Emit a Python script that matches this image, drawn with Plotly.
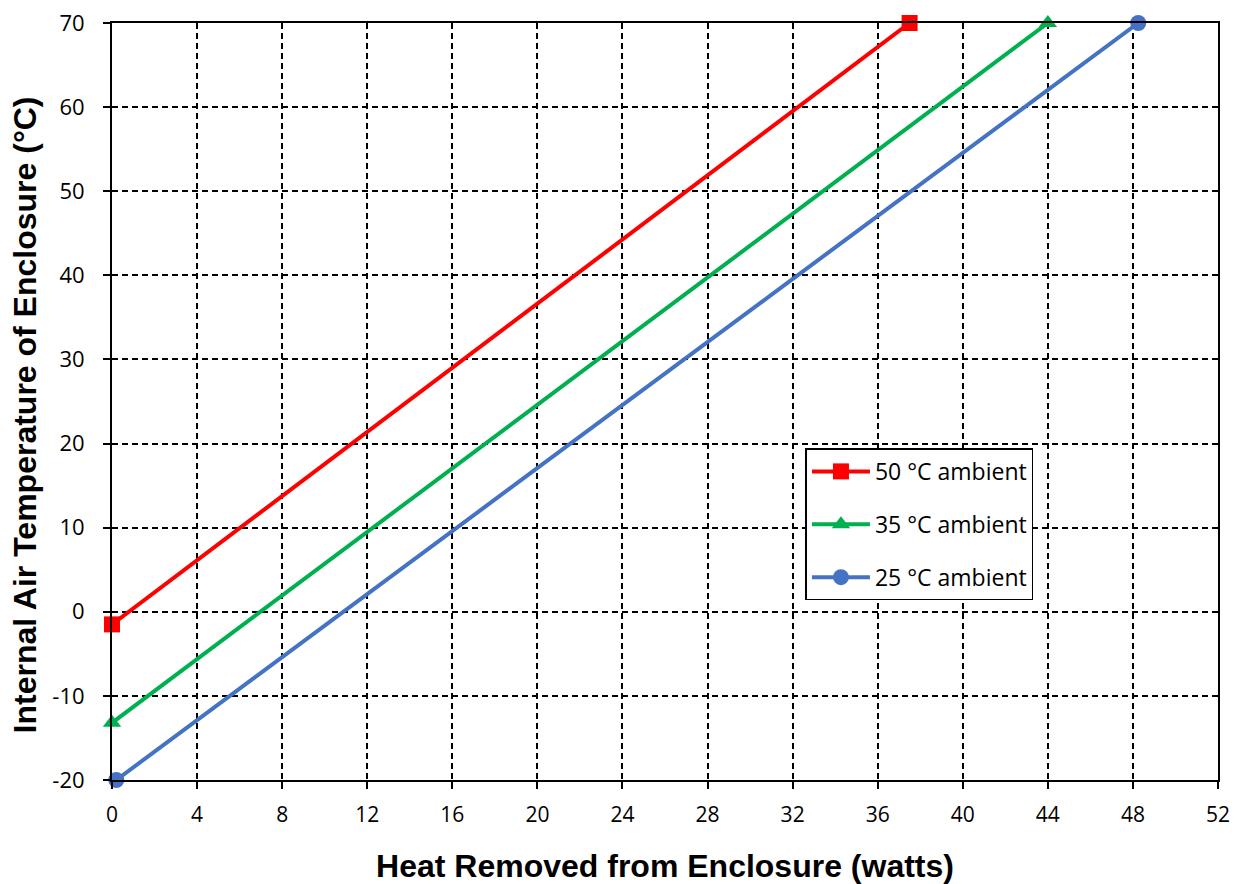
import plotly.graph_objects as go

# Data
series_names = ["50 °C ambient", "35 °C ambient", "25 °C ambient"]
red_x = [0.0, 37.5]
red_y = [-1.5, 70.0]
green_x = [0.0, 44.0]
green_y = [-13.2, 70.0]
blue_x = [0.2, 48.25]
blue_y = [-20.0, 70.0]

x_ticks = list(range(0, 53, 4))
y_ticks = list(range(-20, 71, 10))

x_title = "Heat Removed from Enclosure (watts)"
y_title = "Internal Air Temperature of Enclosure (°C)"

colors = ["#FF0000", "#00B050", "#4472C4"]
symbols = ["square", "triangle-up", "circle"]

fig = go.Figure()
for i, (name, xs, ys) in enumerate(zip(series_names, [red_x, green_x, blue_x], [red_y, green_y, blue_y])):
    fig.add_trace(go.Scatter(
        x=xs, y=ys, name=name, mode="lines+markers",
        line=dict(color=colors[i], width=4),
        marker=dict(symbol=symbols[i], size=16, color=colors[i]),
        legendgroup=f"g{i}", cliponaxis=False,
    ))

axis_common = dict(
    showline=True, linecolor="black", linewidth=2, mirror=True,
    showgrid=True, gridcolor="black", griddash="6px,4px", gridwidth=1.5,
    ticks="outside", ticklen=7, tickcolor="black", tickwidth=1.5,
    zeroline=False, automargin=False, ticklabeloverflow="allow",
)

fig.update_xaxes(
    range=[0, 52], tickvals=x_ticks, ticktext=[str(v) for v in x_ticks],
    ticklabelstandoff=8,
    tickfont=dict(family="Open Sans, Noto Sans, sans-serif", size=21, color="black"),
    title=dict(text=f"<b>{x_title}</b>",
               font=dict(family="Liberation Sans, Arial, sans-serif", size=32, color="black"),
               standoff=27),
    **axis_common,
)
fig.update_yaxes(
    range=[-20, 70], tickvals=y_ticks, ticktext=[str(v) for v in y_ticks],
    ticklabelstandoff=14,
    tickfont=dict(family="Open Sans, Noto Sans, sans-serif", size=22, color="black"),
    **axis_common,
)

fig.add_annotation(
    text=f"<b>{y_title}</b>", xref="paper", yref="paper",
    x=-0.0787, y=0.5, yshift=-13, xanchor="center", yanchor="middle",
    textangle=-90, showarrow=False,
    font=dict(family="Liberation Sans, Arial, sans-serif", size=32, color="black"),
)

fig.update_layout(
    width=1238, height=884,
    margin=dict(l=104, r=28, t=15, b=112),
    paper_bgcolor="white", plot_bgcolor="white",
    showlegend=True,
    legend=dict(
        x=0.627, y=0.438, xanchor="left", yanchor="top",
        bgcolor="white", bordercolor="black", borderwidth=1.5,
        font=dict(family="Open Sans, Noto Sans, sans-serif", size=23, color="black"),
        traceorder="grouped", tracegroupgap=20, itemwidth=58,
    ),
)

fig.write_html("out.html")
